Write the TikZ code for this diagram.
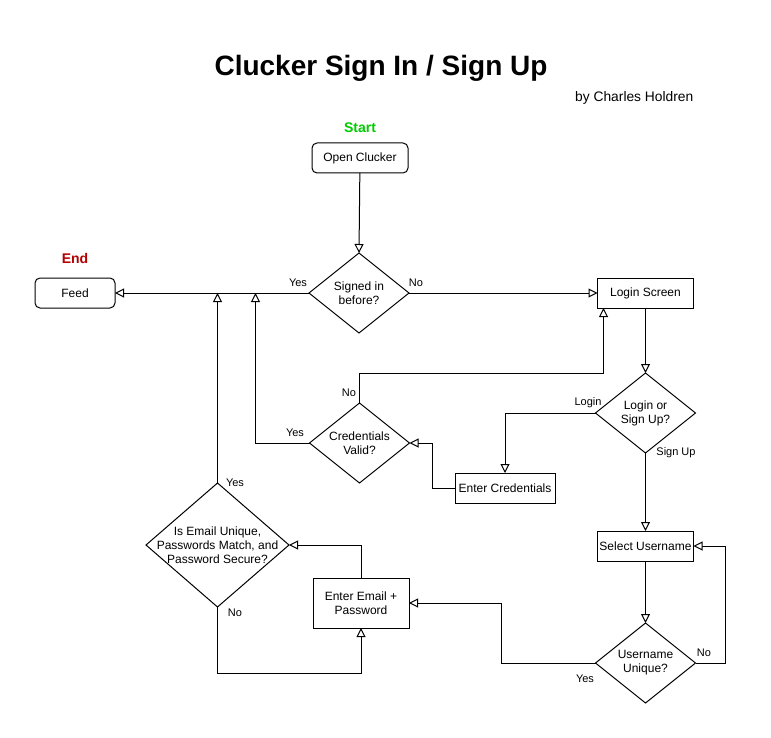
\documentclass[tikz,border=0pt]{standalone}
\usepackage{fontspec}
\setmainfont{Liberation Sans}
\usetikzlibrary{shapes.geometric,arrows.meta}
\definecolor{startgreen}{RGB}{0,204,0}
\definecolor{endred}{RGB}{180,0,0}
\tikzset{
  box/.style={draw, line width=1pt, minimum width=96pt, minimum height=30pt, inner sep=0pt, outer sep=0pt, font=\fontsize{12}{14}\selectfont, align=center},
  rbox/.style={box, rounded corners=5pt},
  dia/.style={draw, line width=1pt, diamond, inner sep=0pt, outer sep=0pt},
  dtext/.style={font=\fontsize{12}{14}\selectfont, align=center, inner sep=0pt},
  lbl/.style={font=\fontsize{11}{13}\selectfont, inner sep=0pt},
  conn/.style={line width=1pt, -{Triangle[open,length=9pt,width=9pt]}},
}
\begin{document}
\begin{tikzpicture}[x=1pt,y=-1pt]
\useasboundingbox (0,0) rectangle (771,738);
\fill[white] (0,0) rectangle (771,738);
% titles
\node[font=\fontsize{28}{32}\selectfont\bfseries, inner sep=0pt] (title) at (381,68) {Clucker Sign In / Sign Up};
\node[font=\fontsize{13.8}{16}\selectfont, inner sep=0pt, anchor=west] (author) at (575,98) {by Charles Holdren};
\node[font=\fontsize{14}{16}\selectfont\bfseries, text=startgreen, inner sep=0pt] (start) at (360,128) {Start};
\node[font=\fontsize{14}{16}\selectfont\bfseries, text=endred, inner sep=0pt] (end) at (75,258) {End};
% boxes
\node[rbox] (open) at (360,158) {Open Clucker};
\node[rbox, minimum width=80pt] (feed) at (75,293) {Feed};
\node[box] (login) at (645.5,293) {Login Screen};
\node[box, minimum width=100pt] (cred) at (505,488) {Enter Credentials};
\node[box] (sel) at (645.5,546) {Select Username};
\node[box, minimum height=50pt] (email) at (361,603) {Enter Email +\\Password};
% diamonds
\node[dia, minimum width=100pt, minimum height=80pt] (d1) at (359,293) {};
\node[dtext] (d1t) at (d1) {Signed in\\before?};
\node[dia, minimum width=100pt, minimum height=80pt] (d2) at (645.5,413) {};
\node[dtext] (d2t) at (d2) {Login or\\Sign Up?};
\node[dia, minimum width=100pt, minimum height=80pt] (d3) at (359.5,443) {};
\node[dtext] (d3t) at (d3) {Credentials\\Valid?};
\node[dia, minimum width=100pt, minimum height=80pt] (d4) at (645.5,663) {};
\node[dtext] (d4t) at (d4) {Username\\Unique?};
\node[dia, minimum width=143pt, minimum height=124pt] (d5) at (217.5,545) {};
\node[dtext] (d5t) at (d5) {Is Email Unique,\\Passwords Match, and\\Password Secure?};
% junction coordinates on feed line
\coordinate (j1) at (217.5,293);
\coordinate (j2) at (255.5,293);
% connectors
\draw[conn] (open) -- (d1.north);
\draw[conn] (d1.west) -- (feed.east);
\draw[conn] (d1.east) -- (login.west);
\draw[conn] (login.south) -- (d2.north);
\draw[conn] (d2.west) -| (cred.north);
\draw[conn] (cred.west) -- ++(-23,0) |- (d3.east);
\draw[conn] (d3.west) -| (j2);
\draw[conn] (d3.north) -- ++(0,-30) -| ([xshift=6pt]login.south west);
\draw[conn] (d2.south) -- (sel.north);
\draw[conn] (sel.south) -- (d4.north);
\draw[conn] (d4.east) -- ++(30,0) |- (sel.east);
\draw[conn] (d4.west) -- ++(-94,0) |- (email.east);
\draw[conn] (email.north) |- (d5.east);
\draw[conn] (d5.south) -- ++(0,66) -| (email.south);
\draw[conn] (d5.north) -- (j1);
% labels
\node[lbl] (l1) at (298,283) {Yes};
\node[lbl] (l2) at (416,283) {No};
\node[lbl] (l3) at (588,403) {Login};
\node[lbl] (l4) at (676,453) {Sign Up};
\node[lbl] (l5) at (295,433) {Yes};
\node[lbl] (l6) at (349,393) {No};
\node[lbl] (l7) at (235,483) {Yes};
\node[lbl] (l8) at (235,613) {No};
\node[lbl] (l9) at (704,653) {No};
\node[lbl] (l10) at (585,679) {Yes};
\end{tikzpicture}
\end{document}
